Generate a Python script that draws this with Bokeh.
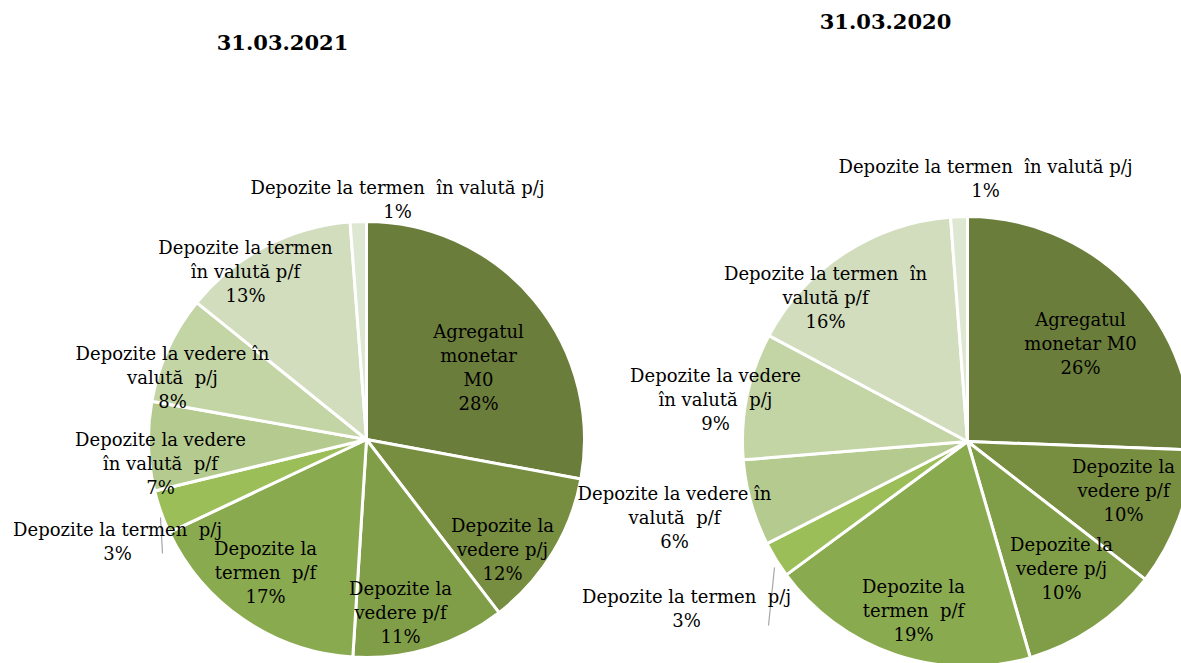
import numpy as np
from bokeh.plotting import figure
from bokeh.models import Range1d
from bokeh.core.properties import value
from bokeh.embed import file_html
from bokeh.resources import INLINE

# ---------------- data ----------------
titles = ["31.03.2021", "31.03.2020"]

labels_2021 = ["Agregatul\nmonetar\nM0", "Depozite la\nvedere p/j", "Depozite la\nvedere p/f",
               "Depozite la\ntermen  p/f", "Depozite la termen  p/j",
               "Depozite la vedere\nîn valută  p/f", "Depozite la vedere în\nvalută  p/j",
               "Depozite la termen\nîn valută p/f", "Depozite la termen  în valută p/j"]
values_2021 = [27.9, 11.7, 11.4, 17.0, 3.2, 6.6, 8.0, 13.0, 1.2]

labels_2020 = ["Agregatul\nmonetar M0", "Depozite la\nvedere p/f", "Depozite la\nvedere p/j",
               "Depozite la\ntermen  p/f", "Depozite la termen  p/j",
               "Depozite la vedere în\nvalută  p/f", "Depozite la vedere\nîn valută  p/j",
               "Depozite la termen  în\nvalută p/f", "Depozite la termen  în valută p/j"]
values_2020 = [25.6, 9.9, 10.0, 19.4, 2.6, 6.2, 9.1, 16.0, 1.2]

# ---------------- style / layout ----------------
colors = ["#6b7d3b", "#778d40", "#809e48", "#8aaa50", "#9bbe59",
          "#b4ca8e", "#c3d4a5", "#d1ddbd", "#dde7d1"]
FONT = "DejaVu Serif"
W, H = 1181, 663


def sx(X):
    return X


def sy(Y):
    return H - Y


pies = [
    dict(cx=366, cy=439, r=218, labels=labels_2021, values=values_2021,
         title_pos=(282, 42),
         label_pos=[(478, 367), (502, 549), (400, 612), (265, 572), (117, 541),
                    (160, 463), (172, 377), (245, 271), (397, 199)],
         leader=[(160, 517), (162, 553)]),
    dict(cx=967, cy=441, r=225, labels=labels_2020, values=values_2020,
         title_pos=(885, 21),
         label_pos=[(1080, 343), (1123, 490), (1061, 568), (913, 610), (686, 608),
                    (674, 517), (715, 399), (825, 297), (985, 178)],
         leader=[(774, 567), (768, 625)]),
]

p = figure(width=W, height=H, output_backend="svg", toolbar_location=None,
           x_range=Range1d(0, W), y_range=Range1d(0, H),
           min_border=0, min_border_left=0, min_border_right=0,
           min_border_top=0, min_border_bottom=0)
p.axis.visible = False
p.grid.visible = False
p.outline_line_color = None
p.background_fill_color = "white"

for i, pie in enumerate(pies):
    vals = np.array(pie["values"], dtype=float)
    frac = vals / vals.sum()
    cum = np.concatenate([[0], np.cumsum(frac)])
    theta1 = cum[:-1] * 2 * np.pi
    theta2 = cum[1:] * 2 * np.pi
    start = np.pi / 2 - theta1
    end = np.pi / 2 - theta2
    n = len(vals)
    p.wedge(x=[sx(pie["cx"])] * n, y=[sy(pie["cy"])] * n, radius=pie["r"],
            start_angle=list(start), end_angle=list(end), direction="clock",
            fill_color=colors[:n], line_color="white", line_width=3)

    (x0, y0), (x1, y1) = pie["leader"]
    p.segment(x0=[sx(x0)], y0=[sy(y0)], x1=[sx(x1)], y1=[sy(y1)],
              line_color="#a6a6a6", line_width=1.2)

    texts = [f"{lab}\n{round(v)}%".replace("  ", " \u00a0")
             for lab, v in zip(pie["labels"], vals)]
    xs = [sx(x) for x, _ in pie["label_pos"]]
    ys = [sy(y) for _, y in pie["label_pos"]]
    p.text(x=xs, y=ys, text=texts, text_align="center", text_baseline="middle",
           text_font=value(FONT), text_font_size="18px", text_line_height=1.14,
           text_color="#000000")

    tx, ty = pie["title_pos"]
    p.text(x=[sx(tx)], y=[sy(ty)], text=[titles[i]], text_align="center",
           text_baseline="middle", text_font=value(FONT), text_font_size="21px",
           text_font_style="bold", text_color="#000000")

open("out.html", "w").write(file_html(p, INLINE))
